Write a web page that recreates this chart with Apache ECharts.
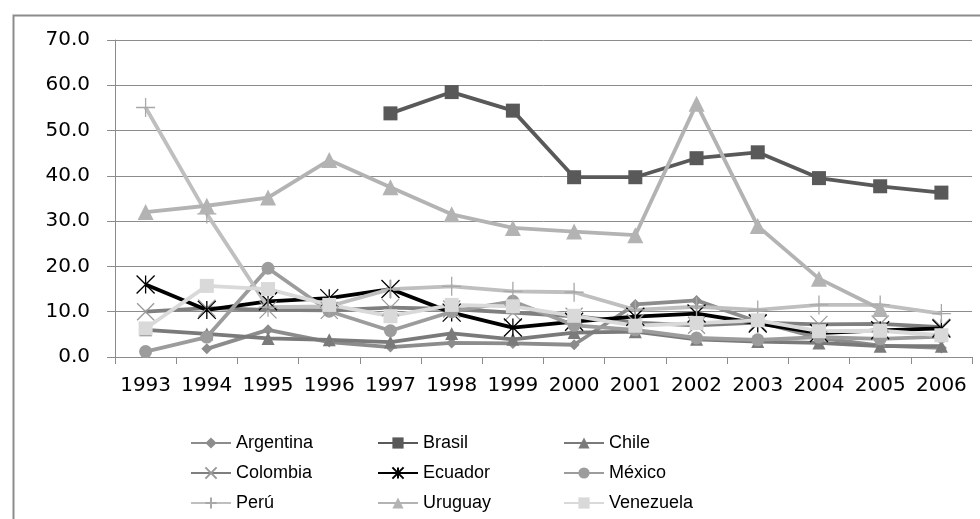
<!DOCTYPE html>
<html>
<head>
<meta charset="utf-8">
<script src="https://cdn.jsdelivr.net/npm/echarts@6/dist/echarts.min.js"></script>
<style>
html,body{margin:0;padding:0;background:#fff;}
#chart{width:980px;height:519px;}
</style>
</head>
<body>
<div id="chart"></div>
<script>
// Years on the category axis
const years = ['1993','1994','1995','1996','1997','1998','1999','2000','2001','2002','2003','2004','2005','2006'];

// Values per country (null where there is no figure)
const argentina = [null, 1.8, 6.0, 3.3, 2.2, 3.1, 3.0, 2.7, 11.6, 12.5, 7.8, 4.2, 2.5, 2.0];
const brasil    = [null, null, null, null, 53.8, 58.5, 54.4, 39.7, 39.7, 43.9, 45.2, 39.5, 37.7, 36.3];
const chile     = [6.0, 5.1, 4.1, 3.8, 3.3, 5.2, 3.9, 5.4, 5.6, 3.9, 3.4, 3.1, 2.4, 2.4];
const colombia  = [10.0, 10.8, 10.4, 10.3, 10.9, 10.6, 9.8, 9.0, 7.6, 7.0, 7.6, 7.2, 7.3, 6.6];
const ecuador   = [16.0, 10.4, 12.3, 13.0, 15.0, 9.8, 6.5, 7.8, 8.9, 9.6, 7.4, 5.3, 5.9, 6.3];
const mexico    = [1.2, 4.4, 19.6, 10.1, 5.8, 10.0, 12.3, 7.0, 6.0, 4.2, 3.8, 4.4, 4.0, 4.5];
const peru      = [55.1, 31.6, 11.0, 11.2, 15.0, 15.6, 14.5, 14.3, 10.4, 11.1, 10.4, 11.5, 11.5, 9.6];
const uruguay   = [32.0, 33.4, 35.2, 43.5, 37.5, 31.5, 28.5, 27.7, 26.9, 55.9, 28.9, 17.3, 10.6, null];
const venezuela = [6.3, 15.7, 15.0, 11.5, 9.0, 11.5, 11.2, 9.1, 6.9, 7.5, 8.1, 5.7, 5.8, 4.8];

// Value axis ticks
const yMin = 0, yMax = 70, yStep = 10;

// Stroked marker shapes
const CROSS = 'path://M0,0L10,10M10,0L0,10';
const STAR  = 'path://M0,0L10,10M10,0L0,10M5,0L5,10';
const PLUS  = 'path://M5,0L5,10M0,5L10,5';

function line(name, data, color, symbol, size, stroked, markColor) {
  const mc = markColor || color;
  return {
    name: name,
    type: 'line',
    data: data,
    symbol: symbol,
    symbolSize: size,
    showAllSymbol: true,
    connectNulls: false,
    lineStyle: { color: color, width: 3.8 },
    itemStyle: stroked
      ? { color: 'rgba(0,0,0,0)', borderColor: mc, borderWidth: 1.3 }
      : { color: mc, borderWidth: 0 },
    emphasis: { disabled: true }
  };
}

const legendText = { fontFamily: 'Liberation Sans, Arial, sans-serif', fontSize: 18, color: '#000', lineHeight: 18 };
function legendCol(names, left) {
  return {
    data: names, orient: 'vertical', left: left, top: 429,
    itemWidth: 40, itemHeight: 14, itemGap: 12,
    textStyle: legendText, selectedMode: false
  };
}

const chart = echarts.init(document.getElementById('chart'), null, { renderer: 'canvas' });
chart.setOption({
  animation: false,
  backgroundColor: '#ffffff',
  graphic: [{
    type: 'rect', left: 11, top: 13, silent: true,
    shape: { width: 1000, height: 540 },
    style: { fill: 'none', stroke: '#8c8c8c', lineWidth: 2 }
  }],
  grid: { left: 115, top: 40, width: 857, height: 317 },
  xAxis: {
    type: 'category', data: years, boundaryGap: true,
    axisLine: { lineStyle: { color: '#8c8c8c', width: 1 } },
    axisTick: { show: true, length: 7, lineStyle: { color: '#8c8c8c' } },
    axisLabel: { margin: 19, color: '#000', fontFamily: 'DejaVu Sans, sans-serif', fontSize: 20, interval: 0 }
  },
  yAxis: {
    type: 'value', min: yMin, max: yMax, interval: yStep,
    axisLine: { show: true, lineStyle: { color: '#8c8c8c', width: 1 } },
    axisTick: { show: true, length: 8, lineStyle: { color: '#8c8c8c' } },
    splitLine: { show: true, lineStyle: { color: '#8c8c8c', width: 1 } },
    axisLabel: { margin: 25, color: '#000', fontFamily: 'DejaVu Sans, sans-serif', fontSize: 20,
      formatter: v => v.toFixed(1) }
  },
  legend: [
    legendCol(['Argentina', 'Colombia', 'Perú'], 185),
    legendCol(['Brasil', 'Ecuador', 'Uruguay'], 372),
    legendCol(['Chile', 'México', 'Venezuela'], 558)
  ],
  series: [
    line('Argentina', argentina, '#8c8c8c', 'diamond', 11, false),
    line('Brasil', brasil, '#595959', 'rect', 14, false),
    line('Chile', chile, '#7a7a7a', 'triangle', 13, false),
    line('Colombia', colombia, '#7f7f7f', CROSS, 17, true, '#9a9a9a'),
    line('Ecuador', ecuador, '#000000', STAR, 18, true),
    line('México', mexico, '#9c9c9c', 'circle', 13, false),
    line('Perú', peru, '#bfbfbf', PLUS, 19, true, '#a8a8a8'),
    line('Uruguay', uruguay, '#b3b3b3', 'triangle', 16, false),
    line('Venezuela', venezuela, '#d9d9d9', 'rect', 14, false)
  ]
});
</script>
</body>
</html>
